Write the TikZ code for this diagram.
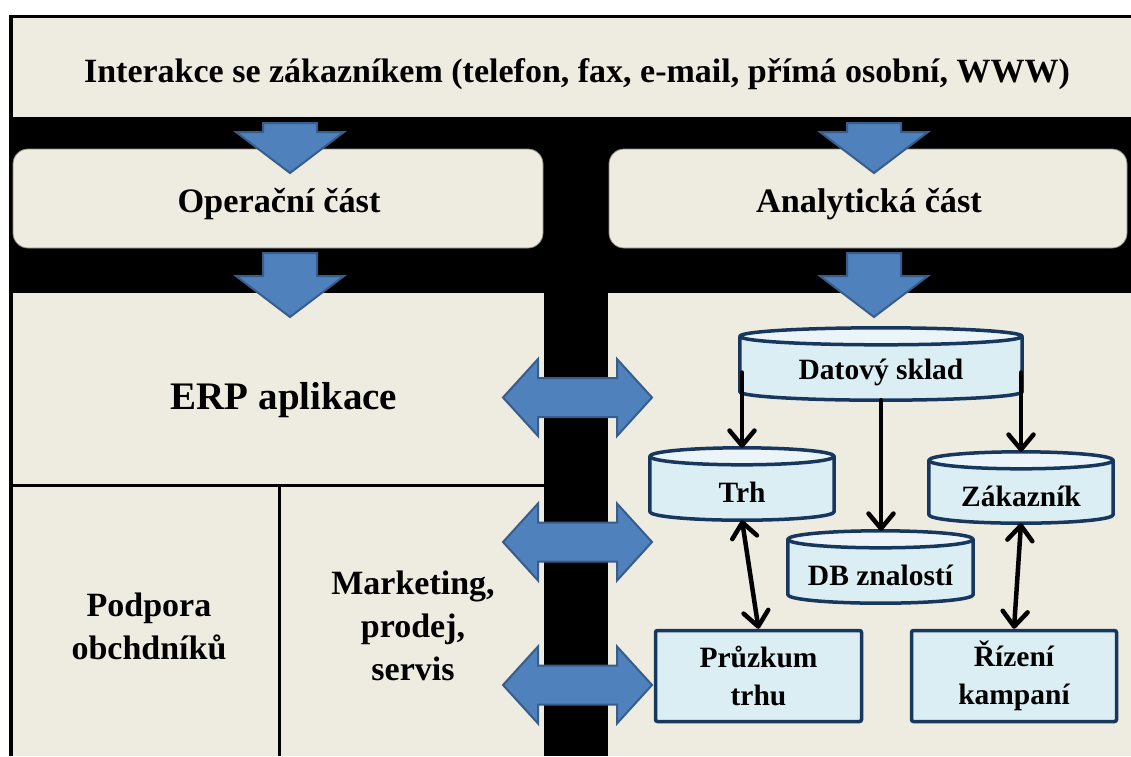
\documentclass[tikz,border=0pt]{standalone}
\usepackage{fontspec}
\setmainfont{Liberation Serif}
\usetikzlibrary{arrows.meta,calc}

\definecolor{panel}{HTML}{EEECE1}
\definecolor{paneledge}{HTML}{8C8A80}
\definecolor{blockblue}{HTML}{4F81BD}
\definecolor{blockedge}{HTML}{385D8A}
\definecolor{drumfill}{HTML}{DBEEF4}
\definecolor{drumtop}{HTML}{EBF5F9}
\definecolor{drumedge}{HTML}{17375E}

\pgfdeclarelayer{back}
\pgfdeclarelayer{drums}
\pgfsetlayers{back,drums,main}

% half height of a drum's elliptic lid
\def\lid{8.5pt}

% draws the cylinder around a drum node (node covers the front face)
\newcommand{\drumshape}[1]{%
  \begin{pgfonlayer}{drums}
    \fill[drumfill] let \p1=(#1.north west), \p2=(#1.south east),
              \n1={(\x2-\x1)/2} in
      (\x1,\y1+\lid) -- (\x1,\y2+\lid)
        arc[start angle=180,end angle=360,x radius=\n1,y radius=\lid]
        -- (\x2,\y1+\lid) -- cycle;
    \draw[drumline] let \p1=(#1.north west), \p2=(#1.south east),
              \n1={(\x2-\x1)/2} in
      (\x1,\y1+\lid) -- (\x1,\y2+\lid)
        arc[start angle=180,end angle=360,x radius=\n1,y radius=\lid]
        -- (\x2,\y1+\lid);
    \filldraw[drumline,fill=drumtop] let \p1=(#1.north west), \p2=(#1.south east),
              \p3=(#1.north), \n1={(\x2-\x1)/2} in
      (\x3,\y1+\lid) ellipse[x radius=\n1,y radius=\lid];
  \end{pgfonlayer}%
  \coordinate (#1-top) at ([yshift=17pt]#1.north);%
}

\tikzset{
  x=1pt, y=-1pt,
  drumline/.style={draw=drumedge,line width=3.5pt,line join=round},
  drum/.style={rectangle,inner sep=0pt,font=\fontsize{29.5}{37}\selectfont\bfseries},
  cardbox/.style={rectangle,rounded corners=2pt,fill=drumfill,draw=drumedge,
    line width=3.5pt,align=center,inner sep=0pt,
    font=\fontsize{29.5}{38.5}\selectfont\bfseries},
  headline/.style={anchor=base,font=\fontsize{34.3}{43}\selectfont\bfseries},
  celltext/.style={align=center,font=\fontsize{34}{43}\selectfont\bfseries},
  partbox/.style={rectangle,rounded corners=15pt,fill=panel,draw=paneledge,
    line width=0.8pt,inner sep=0pt},
  blockarrow/.style={fill=blockblue,draw=blockedge,line width=2pt,line join=miter},
  barb/.tip={Straight Barb[length=15pt,width=25pt,line cap=round,line join=round]},
  link/.style={draw=black,line width=4.5pt,line cap=round,line join=round,-barb},
  twolink/.style={draw=black,line width=4.5pt,line cap=round,line join=round,barb-barb},
  pics/downblock/.style={code={
    \draw[blockarrow] (-27,0) -- (27,0) -- (27,#1) -- (54,#1) -- (0,#1+41)
      -- (-54,#1) -- (-27,#1) -- cycle;
  }},
  pics/twinblock/.style={code={
    \draw[blockarrow] (-74.5,0) -- (-39.5,-38.5) -- (-39.5,-19.5) -- (39.5,-19.5)
      -- (39.5,-38.5) -- (74.5,0) -- (39.5,38.5) -- (39.5,19.5) -- (-39.5,19.5)
      -- (-39.5,38.5) -- cycle;
  }},
}

\begin{document}
\begin{tikzpicture}
\useasboundingbox (0,0) rectangle (1131,756);

% frame and background panels
\begin{pgfonlayer}{back}
  \fill[white] (0,0) rectangle (1131,756);
  \fill[black] (9,15) rectangle (1131,756);
  \fill[panel] (13,18) rectangle (1131,117);
  \fill[panel] (13,293) rectangle (544,756);
  \fill[panel] (608,293) rectangle (1131,756);
  \draw[line width=3pt] (13,485) -- (544,485);
  \draw[line width=3pt] (279,485) -- (279,756);
\end{pgfonlayer}

% the two parts
\node[partbox,minimum width=530,minimum height=99] (op) at (278,198.5) {};
\node[partbox,minimum width=518,minimum height=99] (an) at (868,198.5) {};

% headings
\node[headline,font=\fontsize{34}{43}\selectfont\bfseries] (contact) at (577,82)
  {Interakce se zákazníkem (telefon, fax, e-mail, přímá osobní, WWW)};
\node[headline] (optext) at (279,212) {Operační část};
\node[headline] (antext) at (869,212) {Analytická část};
\node[anchor=base,font=\fontsize{39}{47}\selectfont\bfseries] (erp) at (284,409) {ERP aplikace};
\node[celltext] (support) at (149,626) {Podpora\\obchdníků};
\node[celltext] (market) at (413,626) {Marketing,\\prodej,\\servis};

% flow from the customer down to the applications
\pic at (290,123) {downblock=9};
\pic at (874,123) {downblock=9};
\pic at (290,253) {downblock=23};
\pic at (874,253) {downblock=23};

% exchange between the two parts
\pic at (577.5,397.5) {twinblock};
\pic at (577.5,542) {twinblock};
\pic at (577.5,685) {twinblock};

% databases
\node[drum,minimum width=282,minimum height=55] (ds) at (881,372.5)
  {\raisebox{-2pt}{Datový sklad}};
\node[drum,minimum width=184,minimum height=55] (trh) at (742,492.5)
  {\raisebox{-1pt}{Trh}};
\node[drum,minimum width=184,minimum height=54] (zak) at (1021,496)
  {\raisebox{-1pt}{Zákazník}};
\node[drum,minimum width=185,minimum height=55] (dbz) at (880.5,575.5)
  {\raisebox{-2pt}{DB znalostí}};
\drumshape{ds}
\drumshape{trh}
\drumshape{zak}
\drumshape{dbz}

% analytic outputs
\node[cardbox,minimum width=206,minimum height=91] (pruz) at (758.5,676) {Průzkum\\trhu};
\node[cardbox,minimum width=205,minimum height=91] (riz) at (1014,676) {Řízení\\kampaní};

% links
\draw[link] (trh-top |- ds.west) -- (trh-top);
\draw[link] (zak-top |- ds.east) -- (zak-top);
\draw[link] (ds.south) -- (ds.south |- dbz-top);
\draw[twolink] (trh.south) -- (pruz.north);
\draw[twolink] (zak.south) -- (riz.north);
\end{tikzpicture}
\end{document}
